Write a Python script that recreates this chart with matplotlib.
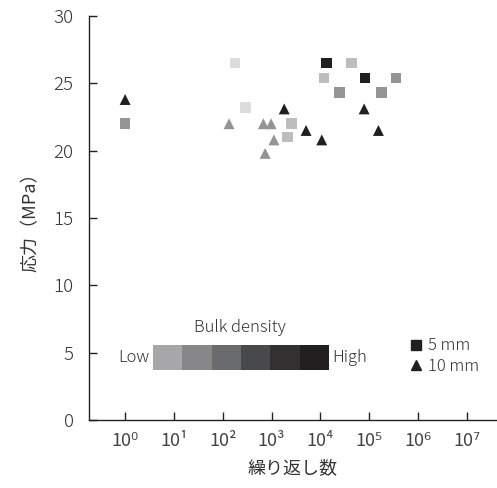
import matplotlib
matplotlib.use("Agg")
import matplotlib.pyplot as plt
from matplotlib.lines import Line2D
import numpy as np

plt.rcParams['font.family'] = ['Noto Sans CJK JP', 'DejaVu Sans']
plt.rcParams['font.weight'] = 'light'

# bulk density level: 0 = lowest ... 3 = highest
sq_cycles = [1, 180, 290, 2600, 2100, 13500, 44000, 12000, 83000, 355000, 24500, 178000]
sq_stress = [22.0, 26.5, 23.2, 22.0, 21.0, 26.5, 26.5, 25.4, 25.4, 25.4, 24.3, 24.3]
sq_level = [2, 0, 0, 1, 1, 3, 1, 1, 3, 2, 2, 2]

tri_cycles = [1, 135, 680, 980, 1820, 5100, 1120, 740, 10700, 79000, 155000]
tri_stress = [23.8, 22.0, 22.0, 22.0, 23.1, 21.5, 20.8, 19.8, 20.8, 23.1, 21.5]
tri_level = [3, 2, 2, 2, 3, 3, 2, 2, 3, 3, 3]

x_ticks = [10 ** k for k in range(8)]
x_ticklabels = ['10⁰', '10¹', '10²', '10³', '10⁴', '10⁵', '10⁶', '10⁷']
y_ticks = [0, 5, 10, 15, 20, 25, 30]

level_colors = {0: '#dcdcdc', 1: '#bdbdbd', 2: '#949497', 3: '#231f20'}
bar_colors = ['#a7a7aa', '#87878a', '#6a6b6e', '#48494b', '#323031', '#231f20']

txt = '#333333'
fig = plt.figure(figsize=(4.97, 4.88), dpi=100)
ax = fig.add_axes([89 / 497, 68 / 488, 408 / 497, 404 / 488])

ax.scatter(sq_cycles, sq_stress, marker='s', s=58, linewidths=0,
           c=[level_colors[l] for l in sq_level])
ax.scatter(tri_cycles, tri_stress, marker='^', s=62, linewidths=0,
           c=[level_colors[l] for l in tri_level])

ax.set_xscale('log')
ax.set_xlim(10 ** -0.74, 10 ** 7.62)
ax.set_ylim(0, 30)
ax.set_xticks(x_ticks)
ax.set_xticklabels(x_ticklabels, fontweight='normal')
ax.xaxis.set_minor_locator(matplotlib.ticker.NullLocator())
ax.set_yticks(y_ticks)
ax.tick_params(direction='in', length=6, width=1, color='#222222',
               labelsize=13.5, labelcolor=txt)
ax.tick_params(axis='x', pad=9, labelsize=13, labelcolor='#444444')
ax.tick_params(axis='y', pad=11)
for s in ['top', 'right']:
    ax.spines[s].set_visible(False)
for s in ['left', 'bottom']:
    ax.spines[s].set_color('#222222')
    ax.spines[s].set_linewidth(1)

ax.set_xlabel('繰り返し数', fontsize=13, color=txt, labelpad=6)
ax.set_ylabel('応力（MPa）', fontsize=13, color=txt, labelpad=10)

# bulk density scale
cax = fig.add_axes([153 / 497, (488 - 370) / 488, 176 / 497, 25 / 488])
cax.imshow([np.arange(len(bar_colors))], aspect='auto',
           cmap=matplotlib.colors.ListedColormap(bar_colors))
cax.axis('off')
fig.text(240 / 497, 1 - 328 / 488, 'Bulk density', ha='center', va='center',
         fontsize=12, color=txt)
fig.text(149 / 497, 1 - 357 / 488, 'Low', ha='right', va='center',
         fontsize=12, color=txt)
fig.text(332 / 497, 1 - 357 / 488, 'High', ha='left', va='center',
         fontsize=12, color=txt)

handles = [Line2D([], [], marker='s', ls='none', color='#231f20', ms=7),
           Line2D([], [], marker='^', ls='none', color='#231f20', ms=7)]
ax.legend(handles, ['5 mm', '10 mm'], loc='upper left',
          bbox_to_anchor=(401 / 497, 1 - 329 / 488), bbox_transform=fig.transFigure,
          frameon=False, fontsize=12, handlelength=0.8, handletextpad=0.3,
          labelspacing=0.2, borderpad=0, labelcolor=txt)

fig.savefig('out.png', dpi=100)
